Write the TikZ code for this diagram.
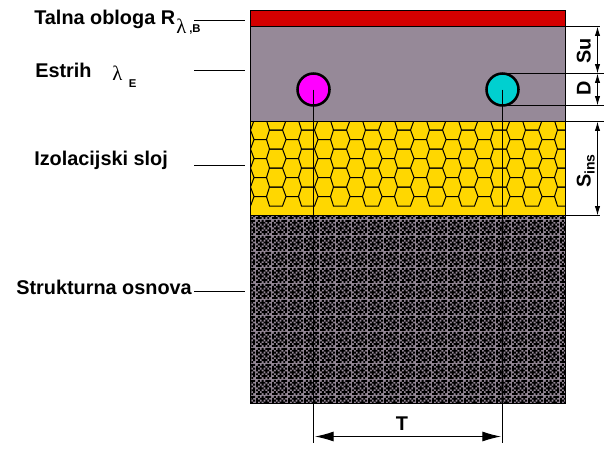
\documentclass[tikz,border=0pt]{standalone}
\usepackage{fontspec}
\setmainfont{Liberation Sans}
\newfontfamily\lamfont{Liberation Serif}
\usetikzlibrary{calc,arrows.meta,patterns}

\definecolor{floorred}{RGB}{212,0,0}
\definecolor{screedgray}{RGB}{150,137,152}
\definecolor{insyellow}{RGB}{255,215,0}
\definecolor{pipepink}{RGB}{255,0,255}
\definecolor{pipecyan}{RGB}{0,208,208}

\newcommand{\basecell}[2]{\pgfpathrectangle{\pgfqpoint{#1pt}{#2pt}}{\pgfqpoint{1.5pt}{1.5pt}}}
\pgfdeclarepatternformonly{basecheck}{\pgfqpoint{0pt}{0pt}}{\pgfqpoint{12pt}{12pt}}{\pgfqpoint{12pt}{12pt}}{
    \foreach \a in {0,3,6,9}
        \foreach \b in {0,3,6,9}
            {
                \basecell{\a}{\b}
            }
    \foreach \a in {1.5,4.5,7.5,10.5}
        \foreach \b in {1.5,4.5,7.5,10.5}
            {
                \basecell{\a}{\b}
            }
    \basecell{1.5}{0}\basecell{6}{1.5}\basecell{10.5}{3}\basecell{3}{4.5}
    \basecell{7.5}{6}\basecell{0}{7.5}\basecell{4.5}{9}\basecell{9}{10.5}
    \pgfusepath{fill}
}

\tikzset{
    layer/.style={draw=black, line width=.75pt},
    lead/.style={line width=.75pt},
    dimline/.style={line width=.75pt, {Latex[length=7pt,width=4pt]}-{Latex[length=7pt,width=4pt]}},
    label/.style={anchor=base west, inner sep=0pt, font=\fontsize{14.9}{16}\selectfont\bfseries},
    lam/.style={anchor=base west, inner sep=0pt, font=\fontsize{15.5}{16}\selectfont\lamfont},
    small/.style={anchor=base west, inner sep=0pt, font=\fontsize{8.5}{10}\selectfont\bfseries},
    dimtext/.style={anchor=base, inner sep=0pt, rotate=90, font=\fontsize{14.9}{16}\selectfont\bfseries},
    pipe/.style={circle, draw=black, line width=1.9pt, minimum size=24pt, inner sep=0pt}
}

\begin{document}
\begin{tikzpicture}[x=.75pt, y=-.75pt]
            \useasboundingbox (0,0) rectangle (616,458);

            % layers
            \fill [screedgray] (250.5,26.5) rectangle (565.5,121.5);
            \fill [insyellow] (250.5,121.5) rectangle (565.5,215.5);
            \fill [screedgray] (250.5,215.5) rectangle (565.5,403.5);
            \fill [pattern=basecheck, pattern color=black] (250.5,215.5) rectangle (565.5,403.5);
            \fill [floorred] (250.5,10.5) rectangle (565.5,26.5);

            % honeycomb
            \begin{scope}
                \clip (250.5,121.5) rectangle (565.5,215.5);
                \foreach \c in {0,...,10}
                    \foreach \r in {0,...,5}
                    {
                        \coordinate (h) at ($(222,101.5) + (32*\c,19*\r)$);
                        \coordinate (k) at ($(h) + (15.5,-9.5)$);
                        \draw [lead] (h) -- ($(h) + (12.5,0)$) -- (k) -- ($(k) + (13,0)$) -- ($(h) + (32,0)$);
                        \draw [lead] ($(h) + (12.5,0)$) -- ($(k) + (0,19)$) -- ($(k) + (13,19)$) -- ($(h) + (32,0)$);
                    }
            \end{scope}

            \draw [layer] (250.5,10.5) rectangle (565.5,403.5);
            \draw [layer] (250.5,26.5) -- (565.5,26.5);
            \draw [layer] (250.5,121.5) -- (565.5,121.5);
            \draw [layer] (250.5,215.5) -- (565.5,215.5);

            % pipes
            \node (P1) at (313.5,89.5) [pipe, fill=pipepink] {};
            \node (P2) at (502.5,89.5) [pipe, fill=pipecyan] {};

            \coordinate (T1) at (313.5,443);
            \coordinate (T2) at (502.5,443);
            \foreach \n in {1,2}
                {
                    \draw [lead] (P\n.center) -- (T\n);
                }

            % left labels
            \node (floor) at (34,24) [label] {Talna obloga R};
            \node (floorl) at (176,33) [lam] {λ};
            \node (floorsub) at (189,32) [small] {,B};
            \node (screed) at (35,77) [label] {Estrih};
            \node (screedl) at (112,80) [lam] {λ};
            \node (screedsub) at (128.5,87) [small] {E};
            \node (ins) at (34,165) [label] {Izolacijski sloj};
            \node (base) at (16,294) [label] {Strukturna osnova};

            \coordinate (L1) at (194,20.5);
            \coordinate (L2) at (194,70.5);
            \coordinate (L3) at (194,165.5);
            \coordinate (L4) at (194,291.5);
            \foreach \n in {1,...,4}
                {
                    \draw [lead] (L\n) -- ($(L\n) + (51,0)$);
                }

            % dimensions on the right
            \coordinate (R1) at (565.5,26.5);
            \coordinate (R2) at (502.5,73.5);
            \coordinate (R3) at (502.5,105.5);
            \coordinate (R4) at (565.5,121.5);
            \coordinate (R5) at (565.5,215.5);
            \draw [lead] (R1) -- (600,26.5);
            \draw [lead] (R2) -- (604,73.5);
            \draw [lead] (R3) -- (604,105.5);
            \draw [lead] (R4) -- (604,121.5);
            \draw [lead] (R5) -- (600,215.5);

            \coordinate (A1) at (597.5,26.5);
            \coordinate (A2) at (597.5,73.5);
            \coordinate (A3) at (597.5,105.5);
            \coordinate (A4) at (597.5,121.5);
            \coordinate (A5) at (597.5,215.5);
            \draw [dimline] (A1) -- (A2);
            \draw [dimline] (A2) -- (A3);
            \draw [dimline] (A4) -- (A5);

            \node (Su) at (590.5,51) [dimtext] {Su};
            \node (D) at (590.5,88.5) [dimtext] {D};
            \node (Sins) at (590.5,171) [dimtext] {S\raisebox{-3pt}{\fontsize{10.5}{12}\selectfont ins}};

            % bottom dimension
            \coordinate (B1) at (315,436.5);
            \coordinate (B2) at (501,436.5);
            \draw [line width=.75pt, {Latex[length=14pt,width=7.5pt]}-{Latex[length=14pt,width=7.5pt]}] (B1) -- (B2);
            \node (T) at (402,430) [anchor=base, inner sep=0pt, font=\fontsize{14.9}{16}\selectfont\bfseries] {T};
        \end{tikzpicture}
\end{document}
